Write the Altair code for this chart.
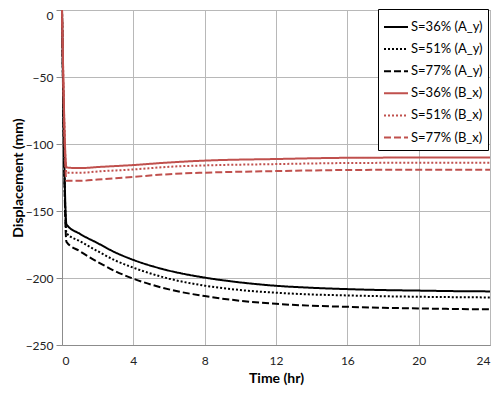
import altair as alt
import pandas as pd

# Series data (time in hr, displacement in mm)
t_A = [0, 0.25, 1, 2, 3, 4, 6, 8, 10, 12, 14, 16, 18, 20, 22, 24]
A36 = [0, -160, -167, -174, -181, -186.5, -194.5, -199.7, -203.3, -205.8, -207.3, -208.3, -209, -209.4, -209.8, -210]
A51 = [0, -166.5, -172.5, -180, -187, -192.3, -200.5, -205.7, -209, -211, -212.3, -213, -213.6, -214, -214.3, -214.5]
A77 = [0, -173, -180, -188, -195, -200.5, -208.5, -213.5, -217, -219.3, -220.7, -221.5, -222.2, -222.7, -223.1, -223.4]

t_B = [0, 0.25, 1, 2, 4, 6, 8, 12, 16, 20, 24]
B36 = [0, -117.5, -118, -117.2, -115.7, -113.8, -112.4, -111.2, -110.3, -110.1, -110]
B51 = [0, -121.5, -121.5, -120.5, -119, -117, -116, -115, -114.2, -114, -113.9]
B77 = [0, -127.5, -127.5, -126.5, -124.5, -122.5, -121.4, -120.2, -119.4, -119.2, -119.2]

names = ["S=36% (A_y)", "S=51% (A_y)", "S=77% (A_y)", "S=36% (B_x)", "S=51% (B_x)", "S=77% (B_x)"]
colors = ["#000000", "#000000", "#000000", "#C0504D", "#C0504D", "#C0504D"]
dashes = [[1, 0], [2, 2], [7, 3], [1, 0], [2, 2], [7, 3]]

x_ticks = [0, 4, 8, 12, 16, 20, 24]
y_ticks = [0, -50, -100, -150, -200, -250]

rows = []
for name, ts, vals in zip(names, [t_A, t_A, t_A, t_B, t_B, t_B], [A36, A51, A77, B36, B51, B77]):
    for t, v in zip(ts, vals):
        rows.append({"series": name, "t": t, "d": v})
df = pd.DataFrame(rows)

FONT = "Lato"

legend = alt.Legend(
    title=None, orient="none", legendX=316, legendY=-1,
    symbolType="stroke", symbolStrokeWidth=2, symbolSize=576,
    labelFont=FONT, labelFontSize=13, labelColor="#000000",
    fillColor="white", strokeColor="#000000", padding=5, rowPadding=2.1,
    labelOffset=2,
)

chart = alt.Chart(df).mark_line(strokeWidth=2, interpolate="monotone").encode(
    x=alt.X("t:Q", scale=alt.Scale(domain=[0, 24], nice=False),
            axis=alt.Axis(values=x_ticks, title="Time (hr)", ticks=False, labelPadding=10,
                          titleY=33.5, titleBaseline="middle")),
    y=alt.Y("d:Q", scale=alt.Scale(domain=[-250, 0], nice=False),
            axis=alt.Axis(values=y_ticks, title="Displacement (mm)", tickSize=6, labelPadding=3,
                          titleX=-44, titleBaseline="middle",
                          labelBaseline=alt.condition("datum.value == 0", alt.value("top"), alt.value("middle")),
                          labelOffset=alt.condition("datum.value == 0", alt.value(0.5), alt.value(0)))),
    color=alt.Color("series:N", scale=alt.Scale(domain=names, range=colors), legend=legend),
    strokeDash=alt.StrokeDash("series:N", scale=alt.Scale(domain=names, range=dashes), legend=legend),
    order=alt.Order("t:Q"),
).properties(
    width=428, height=335,
    autosize=alt.AutoSizeParams(type="none"),
    padding={"left": 54, "top": 2, "right": 2, "bottom": 41},
).configure_view(
    stroke="#8c8c8c", strokeWidth=1
).configure_axis(
    labelFont=FONT, labelFontSize=12, labelColor="#222222",
    titleFont=FONT, titleFontSize=14, titleFontWeight="bold", titleColor="#000000",
    gridColor="#b8b8b8", gridWidth=1, domainColor="#8c8c8c", tickColor="#8c8c8c",
)

chart.save("out.html", embed_options={"renderer": "svg", "actions": False})
